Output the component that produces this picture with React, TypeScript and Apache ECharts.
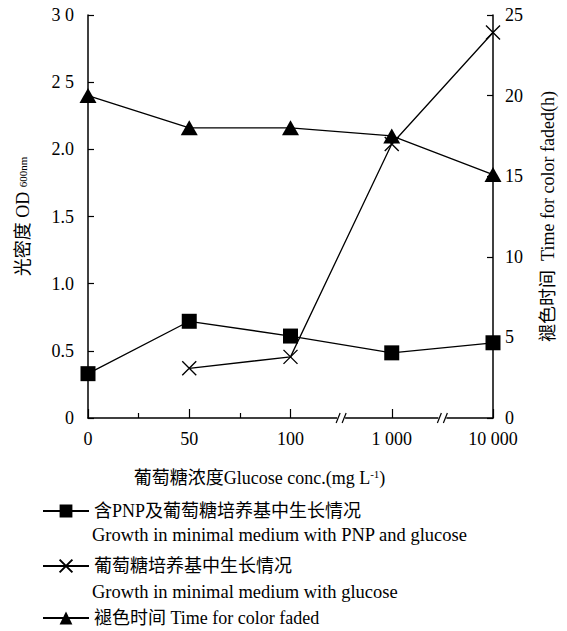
import React, { useEffect, useRef } from "react";
import * as echarts from "echarts";

// ---- data ----
const categories = ["0", "50", "100", "1 000", "10 000"];
const helperCategories = ["0", "25", "50", "75", "100", "brk1", "1000", "brk2", "10000"];
const seriesNames = [
  "含PNP及葡萄糖培养基中生长情况",
  "葡萄糖培养基中生长情况",
  "褪色时间 Time for color faded",
];
const englishLines = [
  "Growth in minimal medium with PNP and glucose",
  "Growth in minimal medium with glucose",
];
const pnpGlucoseOD = [0.33, 0.72, 0.61, 0.485, 0.56];
const glucoseOD = [null, 0.37, 0.455, 2.04, 2.87];
const fadeTimeH = [20, 18, 18, 17.5, 15.1];
const leftTickLabels = ["0", "0.5", "1.0", "1.5", "2.0", "2 5", "3 0"];
const rightTickLabels = ["0", "5", "10", "15", "20", "25"];

const SERIF = "'Liberation Serif', 'Noto Sans CJK SC', serif";

export default function App() {
  const ref = useRef<HTMLDivElement>(null);
  useEffect(() => {
    if (!ref.current) return;
    const chart = echarts.init(ref.current, null, { renderer: "svg" });
    const black = "#000";
    const legendBase = {
      orient: "horizontal",
      left: 42,
      padding: 0,
      itemWidth: 46,
      itemHeight: 16,
      itemGap: 5,
      textStyle: { fontFamily: SERIF, fontSize: 18, color: black },
    };
    const option: any = {
      animation: false,
      backgroundColor: "#fff",
      grid: { left: 88, right: 74, top: 15, bottom: 213, containLabel: false },
      xAxis: [
        {
          type: "category",
          data: categories,
          boundaryGap: false,
          axisLine: { lineStyle: { color: black, width: 1.5 } },
          axisTick: { inside: true, length: 9, lineStyle: { color: black, width: 1.2 } },
          axisLabel: { color: black, fontFamily: SERIF, fontSize: 18, margin: 12 },
          name: "{a|葡萄糖浓度Glucose conc.(mg L}{s|-1}{a|)}",
          nameLocation: "middle",
          nameGap: 50,
          nameTextStyle: {
            padding: [0, 62, 0, 0],
            rich: {
              a: { fontFamily: SERIF, fontSize: 18, color: black },
              s: { fontFamily: SERIF, fontSize: 11, color: black, padding: [0, 0, 9, 0] },
            },
          },
          splitLine: { show: false },
        },
        {
          type: "category",
          data: helperCategories,
          boundaryGap: false,
          position: "bottom",
          axisLine: { show: false },
          axisLabel: { show: false },
          axisTick: {
            inside: true,
            length: 5,
            interval: (i: number) => i === 1 || i === 3,
            lineStyle: { color: black, width: 1.2 },
          },
          splitLine: { show: false },
        },
      ],
      yAxis: [
        {
          type: "value",
          min: 0,
          max: 3,
          interval: 0.5,
          position: "left",
          axisLine: { show: true, lineStyle: { color: black, width: 1.5 } },
          axisTick: { show: true, inside: true, length: 6, lineStyle: { color: black, width: 1.2 } },
          axisLabel: {
            color: black,
            fontFamily: SERIF,
            fontSize: 18,
            margin: 14,
            formatter: (v: number) => leftTickLabels[Math.round(v / 0.5)] ?? "",
          },
          splitLine: { show: false },
          name: "{a|光密度 OD }{b|600nm}",
          nameLocation: "middle",
          nameGap: 56,
          nameRotate: 90,
          nameTextStyle: {
            rich: {
              a: { fontFamily: SERIF, fontSize: 18, color: black },
              b: { fontFamily: SERIF, fontSize: 11, color: black },
            },
          },
        },
        {
          type: "value",
          min: 0,
          max: 25,
          interval: 5,
          position: "right",
          axisLine: { show: true, lineStyle: { color: black, width: 1.5 } },
          axisTick: { show: true, inside: true, length: 6, lineStyle: { color: black, width: 1.2 } },
          axisLabel: {
            color: black,
            fontFamily: SERIF,
            fontSize: 18,
            margin: 12,
            formatter: (v: number) => rightTickLabels[Math.round(v / 5)] ?? "",
          },
          splitLine: { show: false },
          name: "褪色时间  Time for color faded(h)",
          nameLocation: "middle",
          nameGap: 46,
          nameRotate: 90,
          nameTextStyle: { fontFamily: SERIF, fontSize: 18, color: black },
        },
      ],
      legend: [
        { ...legendBase, top: 502, data: [seriesNames[0]] },
        { ...legendBase, top: 557, data: [seriesNames[1]] },
        { ...legendBase, top: 609, data: [seriesNames[2]] },
      ],
      series: [
        {
          name: seriesNames[0],
          type: "line",
          xAxisIndex: 0,
          yAxisIndex: 0,
          data: pnpGlucoseOD,
          symbol: "rect",
          symbolSize: 15,
          itemStyle: { color: black },
          lineStyle: { color: black, width: 1.3 },
          z: 3,
        },
        {
          name: seriesNames[1],
          type: "line",
          xAxisIndex: 0,
          yAxisIndex: 0,
          data: glucoseOD,
          symbol: "path://M0,0L10,10M10,0L0,10",
          symbolSize: 14,
          itemStyle: { color: "none", borderColor: black, borderWidth: 1.4 },
          lineStyle: { color: black, width: 1.3 },
          connectNulls: false,
          z: 3,
        },
        {
          name: seriesNames[2],
          type: "line",
          xAxisIndex: 0,
          yAxisIndex: 1,
          data: fadeTimeH,
          symbol: "triangle",
          symbolSize: [17, 15],
          itemStyle: { color: black },
          lineStyle: { color: black, width: 1.3 },
          z: 3,
        },
      ],
    };
    chart.setOption(option);

    // English second lines of legend and axis break marks
    const graphics: any[] = [
      {
        type: "text",
        left: 92,
        top: 526,
        style: { text: englishLines[0], font: `18.5px ${SERIF}`, fill: black },
      },
      {
        type: "text",
        left: 92,
        top: 583,
        style: { text: englishLines[1], font: `18.5px ${SERIF}`, fill: black },
      },
    ];
    const axisY = chart.convertToPixel({ yAxisIndex: 0 }, 0) as number;
    [5, 7].forEach((idx) => {
      const bx = chart.convertToPixel({ xAxisIndex: 1 }, idx) as number;
      graphics.push({
        type: "rect",
        shape: { x: bx - 4, y: axisY - 2, width: 8, height: 4 },
        style: { fill: "#fff" },
        z: 100,
      });
      graphics.push({
        type: "line",
        shape: { x1: bx - 5, y1: axisY + 5, x2: bx - 1, y2: axisY - 5 },
        style: { stroke: black, lineWidth: 1.2 },
        z: 101,
      });
      graphics.push({
        type: "line",
        shape: { x1: bx + 1, y1: axisY + 5, x2: bx + 5, y2: axisY - 5 },
        style: { stroke: black, lineWidth: 1.2 },
        z: 101,
      });
    });
    chart.setOption({ graphic: graphics });

    return () => chart.dispose();
  }, []);
  return (
    <div
      ref={ref}
      style={{ position: "fixed", left: 0, top: 0, width: 567, height: 631, background: "#fff" }}
    />
  );
}
